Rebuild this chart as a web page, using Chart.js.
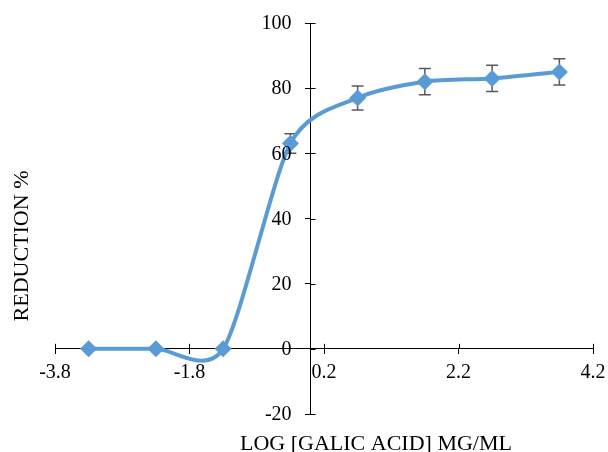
<!DOCTYPE html>
<html>
<head>
<meta charset="utf-8">
<script src="https://cdn.jsdelivr.net/npm/chart.js@4.4.1/dist/chart.umd.min.js"></script>
<style>
    body { margin: 0; background: #fff; }
    .reductionChart { width: 608px; height: 452px; }
</style>
</head>
<body>
<div class="reductionChart"><canvas id="gallicAcidChart"></canvas></div>
<script>
// values
const logConc = [-3.3, -2.3, -1.3, -0.3, 0.7, 1.7, 2.7, 3.7];
const reduction = [0, 0, 0, 63, 77, 82, 83, 85];
const reductionErr = [0, 0, 0, 3, 3.7, 4, 4, 4];
const xTickValues = [-3.8, -1.8, 0.2, 2.2, 4.2];
const yTickValues = [-20, 0, 20, 40, 60, 80, 100];
const xTitle = 'LOG [GALIC ACID] MG/ML';
const yTitle = 'REDUCTION %';

const fontFamily = '"Liberation Serif", "Times New Roman", serif';
const tickFont = {family: fontFamily, size: 20};
const titleFont = {family: fontFamily, size: 22};

// excel smooths with plain catmull-rom, chart.js weights by distance -> redo control points
const excelSmooth = {
    id: 'excelSmooth',
    beforeDatasetsDraw(chart) {
        const meta = chart.getDatasetMeta(0);
        const line = meta.dataset;
        line.updateControlPoints(chart.chartArea, 'x');
        const pts = meta.data;
        const k = 0.13;
        pts.forEach((p, i) => {
            const prev = pts[i - 1] || p;
            const next = pts[i + 1] || p;
            const dx = (next.x - prev.x) * k;
            const dy = (next.y - prev.y) * k;
            p.cp1x = p.x - dx; p.cp1y = p.y - dy;
            p.cp2x = p.x + dx; p.cp2y = p.y + dy;
        });
        line._path = undefined;
    }
};

// error bars, drawn under the markers
const errorBars = {
    id: 'errorBars',
    beforeDatasetsDraw(chart) {
        const {ctx, scales: {x, y}} = chart;
        ctx.save();
        ctx.strokeStyle = '#595959';
        ctx.lineWidth = 1.5;
        logConc.forEach((v, i) => {
            const e = reductionErr[i];
            if (!e) return;
            const px = x.getPixelForValue(v);
            const top = y.getPixelForValue(reduction[i] + e);
            const bot = y.getPixelForValue(reduction[i] - e);
            ctx.beginPath();
            ctx.moveTo(px, top); ctx.lineTo(px, bot);
            ctx.moveTo(px - 6, top); ctx.lineTo(px + 6, top);
            ctx.moveTo(px - 6, bot); ctx.lineTo(px + 6, bot);
            ctx.stroke();
        });
        ctx.restore();
    }
};

// cross tick marks, tick labels (chart.js glues them to a centred axis) and axis titles
const axisExtras = {
    id: 'axisExtras',
    afterDraw(chart) {
        const {ctx, scales: {x, y}} = chart;
        const x0 = x.getPixelForValue(0);
        const y0 = y.getPixelForValue(0);
        ctx.save();
        ctx.strokeStyle = '#000';
        ctx.lineWidth = 1;
        ctx.beginPath();
        xTickValues.forEach(v => {
            const px = Math.round(x.getPixelForValue(v)) + 0.5;
            ctx.moveTo(px, y0 - 5); ctx.lineTo(px, y0);
        });
        yTickValues.forEach(v => {
            const py = Math.round(y.getPixelForValue(v)) + 0.5;
            ctx.moveTo(x0, py); ctx.lineTo(x0 + 5, py);
        });
        ctx.stroke();

        ctx.fillStyle = '#000';
        ctx.font = tickFont.size + 'px ' + tickFont.family;
        ctx.textAlign = 'right';
        ctx.textBaseline = 'middle';
        yTickValues.forEach(v => {
            ctx.fillText(String(v), x0 - 19, y.getPixelForValue(v) + 1);
        });
        ctx.textAlign = 'center';
        ctx.textBaseline = 'top';
        xTickValues.forEach(v => {
            ctx.fillText(v.toFixed(1), x.getPixelForValue(v), y0 + 14);
        });

        ctx.font = titleFont.size + 'px ' + titleFont.family;
        ctx.textBaseline = 'alphabetic';
        ctx.fillText(xTitle, 376, 450);
        ctx.translate(28, 246);
        ctx.rotate(-Math.PI / 2);
        ctx.fillText(yTitle, 0, 0);
        ctx.restore();
    }
};

const ctx = document.getElementById('gallicAcidChart');
new Chart(ctx, {
    type: 'line',
    data: {
        datasets: [{
            data: logConc.map((v, i) => ({x: v, y: reduction[i]})),
            borderColor: '#5B9BD5',
            backgroundColor: '#5B9BD5',
            borderWidth: 4,
            tension: 0.4,
            pointStyle: 'rectRot',
            pointRadius: 8.5,
            pointBorderWidth: 0,
            fill: false
        }]
    },
    options: {
        responsive: true,
        maintainAspectRatio: false,
        animation: false,
        layout: {padding: {left: 55, right: 15, top: 23, bottom: 38}},
        scales: {
            x: {
                type: 'linear',
                min: -3.8,
                max: 4.2,
                position: {y: 0},
                afterBuildTicks: axis => { axis.ticks = xTickValues.map(v => ({value: v})); },
                grid: {drawOnChartArea: false, tickLength: 5, color: '#000'},
                border: {color: '#000', width: 1},
                ticks: {display: false}
            },
            y: {
                min: -20,
                max: 100,
                position: {x: 0},
                afterBuildTicks: axis => { axis.ticks = yTickValues.map(v => ({value: v})); },
                grid: {drawOnChartArea: false, tickLength: 5, color: '#000'},
                border: {color: '#000', width: 1},
                ticks: {display: false}
            }
        },
        plugins: {
            legend: {display: false},
            tooltip: {enabled: false}
        }
    },
    plugins: [excelSmooth, errorBars, axisExtras]
});
</script>
</body>
</html>
